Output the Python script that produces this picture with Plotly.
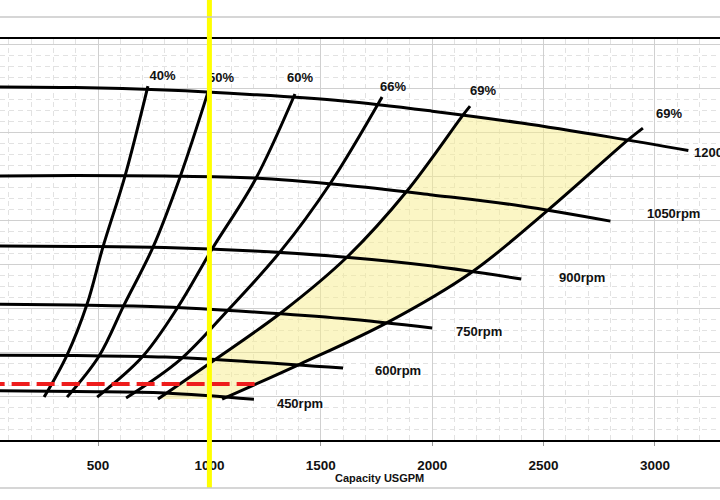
import plotly.graph_objects as go

# --- pump curve data (capacity USGPM, head ft) ---
flow = [0, 400, 800, 1200, 1600, 2000, 2400, 2800, 3150]

head_1200 = [160.5, 160.2, 159.1, 157.0, 154.1, 149.5, 144.1, 137.7, 131.6]
head_1050 = [120.0, 120.2, 120.0, 119.1, 115.9, 111.4, 106.4, 99.5]
head_900 = [88.2, 88.0, 87.5, 85.9, 83.2, 79.1, 73.2]
head_750 = [61.8, 61.4, 60.5, 58.2, 55.2, 50.9]
head_600 = [38.6, 38.4, 37.7, 35.5, 32.7]
head_450 = [22.5, 22.0, 21.4, 18.5]

speed_labels = ["1200rpm", "1050rpm", "900rpm", "750rpm", "600rpm", "450rpm"]
speed_label_q = [3175, 2964, 2569, 2107, 1743, 1303]
speed_label_h = [130.0, 102.3, 73.2, 48.6, 30.9, 15.9]

# efficiency lines, top to bottom
eff40_q = [724, 621, 522, 451, 361, 258]
eff40_h = [160.9, 120.0, 87.7, 61.8, 38.6, 19.5]
eff50_q = [998, 868, 747, 617, 505, 361]
eff50_h = [159.5, 119.5, 87.7, 61.4, 38.2, 19.5]
eff60_q = [1384, 1205, 1012, 859, 698, 496]
eff60_h = [157.3, 118.2, 86.8, 60.5, 37.7, 19.5]
eff66_q = [1775, 1541, 1317, 1084, 868, 626]
eff66_h = [155.9, 116.4, 85.5, 59.1, 36.4, 19.1]
eff69a_q = [2170, 2138, 1887, 1618, 1326, 1016, 769]
eff69a_h = [151.8, 147.7, 113.2, 83.2, 58.2, 35.9, 18.6]
eff69b_q = [2946, 2879, 2520, 2179, 1802, 1407, 1057]
eff69b_h = [141.8, 136.4, 104.5, 76.4, 53.6, 34.5, 18.6]

eff_labels = ["40%", "50%", "60%", "66%", "69%", "69%"]
eff_label_q = [790, 1052, 1407, 1824, 2228, 3063]
eff_label_h = [165.0, 164.1, 164.1, 160.0, 158.2, 147.7]

# operating line
duty_q = [0, 1214]
duty_h = [25.5, 25.5]
marker_q = 1000

fig = go.Figure()

# best efficiency band between the two 69% lines
band_q = eff69a_q[1:] + eff69b_q[1:][::-1]
band_h = eff69a_h[1:] + eff69b_h[1:][::-1]
fig.add_trace(go.Scatter(x=band_q, y=band_h, fill="toself",
                         fillcolor="rgba(248,238,140,0.5)",
                         line=dict(width=0), mode="lines", hoverinfo="skip"))

black = dict(color="black", width=3, shape="spline")
for heads in [head_1200, head_1050, head_900, head_750, head_600, head_450]:
    fig.add_trace(go.Scatter(x=flow[:len(heads)], y=heads, mode="lines", line=black))

for q, h in [(eff40_q, eff40_h), (eff50_q, eff50_h), (eff60_q, eff60_h),
             (eff66_q, eff66_h), (eff69a_q, eff69a_h), (eff69b_q, eff69b_h)]:
    fig.add_trace(go.Scatter(x=q, y=h, mode="lines", line=black))

fig.add_trace(go.Scatter(x=duty_q, y=duty_h, mode="lines",
                         line=dict(color="#ee1c1c", width=4, dash="18px,7px")))

lab_font = dict(family="Liberation Sans", size=13, color="#111111")
fig.add_trace(go.Scatter(x=eff_label_q, y=eff_label_h, text=eff_labels,
                         mode="text", textposition="middle center",
                         textfont=dict(lab_font, weight="bold")))
fig.add_trace(go.Scatter(x=speed_label_q, y=speed_label_h, text=speed_labels,
                         mode="text", textposition="middle right",
                         textfont=dict(lab_font, weight="bold")))

# yellow marker line at 1000 USGPM
fig.add_shape(type="line", xref="x", yref="paper", x0=marker_q, x1=marker_q,
              y0=-0.12, y1=1.2, line=dict(color="#ffff00", width=5))
# outer frame lines of the chart area
for yy in [1.055, -0.12]:
    fig.add_shape(type="line", xref="paper", yref="paper", x0=-0.1, x1=1.1,
                  y0=yy, y1=yy, line=dict(color="#c8c8c8", width=1.5))

fig.add_annotation(text="Capacity USGPM", xref="paper", yref="paper",
                   x=379 / 720, y=-0.095, yanchor="middle", showarrow=False,
                   font=dict(family="Liberation Sans", size=11, color="#111111",
                             weight="bold"))

fig.update_layout(
    width=720, height=500,
    margin=dict(l=0, r=0, t=39, b=60),
    showlegend=False,
    plot_bgcolor="white", paper_bgcolor="white",
    xaxis=dict(range=[60, 3292], tick0=0, dtick=500, showgrid=True,
               gridcolor="#d0d0d0", gridwidth=1, zeroline=False,
               showline=True, linecolor="black", linewidth=2, mirror=True,
               ticks="outside", ticklen=4, tickcolor="#999999",
               ticklabelstandoff=8,
               tickfont=dict(family="Liberation Sans", size=13.5,
                             color="#111111", weight="bold"),
               minor=dict(dtick=100, showgrid=True, gridcolor="#e2e2e2",
                          griddash="5px,4px")),
    yaxis=dict(range=[0, 182.3], tick0=0, dtick=20, showgrid=True,
               gridcolor="#d0d0d0", gridwidth=1, zeroline=False,
               showticklabels=False, showline=False,
               minor=dict(dtick=5, showgrid=True, gridcolor="#e2e2e2",
                          griddash="5px,4px")),
)

fig.write_html("out.html", config={"displayModeBar": False},
               post_script="document.body.style.margin='0';")
